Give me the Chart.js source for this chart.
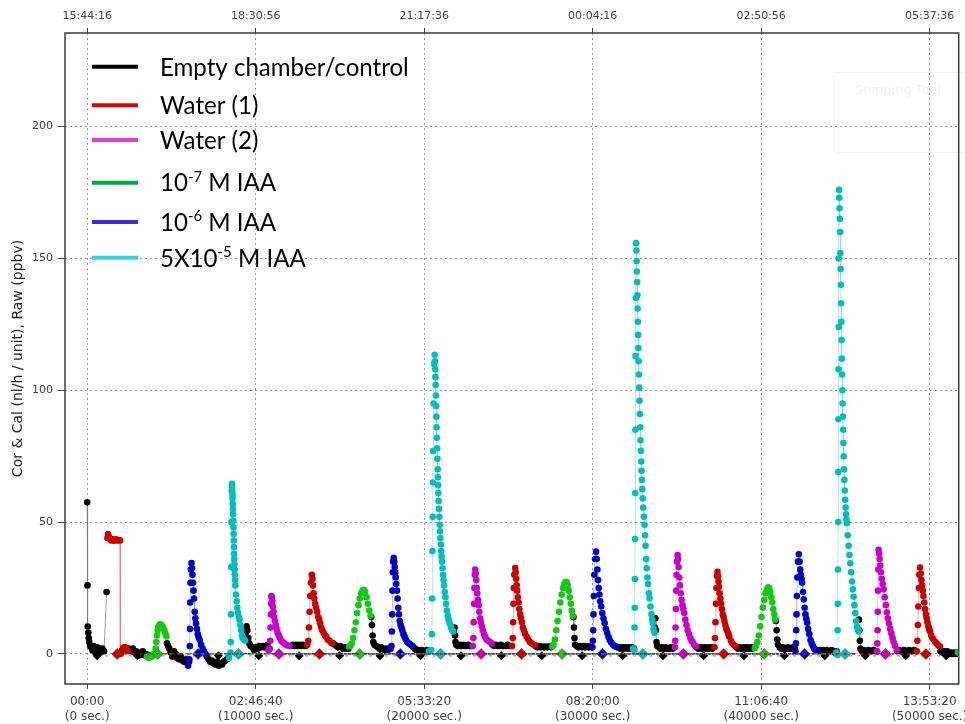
<!DOCTYPE html>
<html>
<head>
<meta charset="utf-8">
<script src="https://cdn.jsdelivr.net/npm/chart.js@4.4.0/dist/chart.umd.min.js"></script>
<style>
  html, body { margin: 0; padding: 0; background: #fff; overflow: hidden; }
  canvas { display: block; }
</style>
</head>
<body>
<canvas id="chart" width="965" height="724"></canvas>
<script>
// axis ticks (seconds from start) and their labels
const timeTicks = [0, 10000, 20000, 30000, 40000, 50000];
const bottomLabels = [['00:00', '(0 sec.)'], ['02:46:40', '(10000 sec.)'], ['05:33:20', '(20000 sec.)'],
  ['08:20:00', '(30000 sec.)'], ['11:06:40', '(40000 sec.)'], ['13:53:20', '(50000 sec.)']];
const topLabels = ['15:44:16', '18:30:56', '21:17:36', '00:04:16', '02:50:56', '05:37:36'];
const yTicks = [0, 50, 100, 150, 200];
const yTitle = 'Cor & Cal (nl/h / unit), Raw (ppbv)';

// legend entries: [text, superscript, rest]
const legendText = [['Empty chamber/control'], ['Water (1)'], ['Water (2)'],
  ['10', '-7', ' M IAA'], ['10', '-6', ' M IAA'], ['5X10', '-5', ' M IAA']];

// measured points [seconds, value], one sub-array per measurement period
const controlPts = [
  [[0,57.5],[15,26],[30,10.4],[60,8],[90,6],[120,4.5],[180,3],[240,2.5],[300,1.5],[360,3],[420,2],[480,0.5],[540,1.5],[600,2.5],[660,1],[720,2],[780,0.5],[840,1.5],[900,2],[1000,1],[1150,23.5]],
  [[2450,2],[2520,1.5],[2600,1],[2700,2],[2800,0.5],[2900,1],[3000,0],[3100,-0.5],[3200,0.5],[3300,1],[3400,-0.5],[3500,0],[3600,-1],[3700,-0.5]],
  [[4740,4],[4800,3],[4870,2],[4950,0.5],[5050,-1],[5150,1],[5250,0],[5350,-1.5],[5450,-2],[5550,-1],[5650,-2.5],[5750,-3],[5850,-2],[5950,-3.5],[6050,-3]],
  [[7100,-1],[7200,-2],[7300,-3],[7400,-2.5],[7500,-3.5],[7600,-4],[7700,-3],[7800,-4.5],[7900,-3.5],[8000,-4],[8100,-3],[8200,-2.5],[8300,-2],[8400,-1.5]],
  [[9420,8],[9460,10.5],[9500,9],[9560,6],[9620,4],[9700,3],[9800,2.5],[9900,1.5],[10000,2.5],[10100,2],[10200,3],[10300,2.5],[10400,3],[10500,2.5],[10600,3],[10700,3.5]],
  [[12100,3],[12200,3.5],[12300,3],[12400,3.5],[12500,3],[12600,3.5],[12700,3],[12800,3.5],[12900,3],[13000,3.2]],
  [[14600,4],[14700,3.5],[14800,3],[14900,2.5],[15000,3],[15100,2.5],[15200,2],[15300,2.5],[15400,2],[15500,2]],
  [[16860,14],[16900,11],[16940,7],[16980,4.5],[17050,3.5],[17150,3],[17250,2.5],[17350,2],[17450,2.5],[17550,2],[17650,1.5],[17750,2],[17850,1.5],[17950,2]],
  [[19350,2.5],[19450,2],[19550,1.5],[19650,1.5],[19750,1],[19850,1.5],[19950,1],[20050,1],[20150,1.5],[20250,1]],
  [[21760,9],[21800,10],[21830,7],[21860,4.5],[21900,3.5],[22000,3],[22100,3.5],[22200,3],[22300,3.5],[22400,3],[22500,3],[22600,3.5],[22700,3],[22800,3]],
  [[24060,3.5],[24150,3],[24250,3.5],[24350,3],[24450,3],[24550,3.5],[24650,3],[24750,3],[24850,3],[24950,3.5],[25050,3],[25150,3]],
  [[26620,3],[26720,2.5],[26820,3],[26920,2.5],[27020,2.8],[27120,2.5],[27220,2.8],[27320,2.5],[27420,2.8],[27520,2.5]],
  [[28860,14],[28890,10],[28920,6],[28960,3.5],[29050,3],[29150,2.5],[29250,3],[29350,2.5],[29450,3],[29550,2.5],[29650,3],[29750,2.5],[29850,2.8],[29950,2.5]],
  [[31450,2.5],[31550,2.5],[31650,2],[31750,2.5],[31850,2],[31950,2.5],[32050,2],[32150,2.5],[32250,2],[32350,2.5],[32450,2]],
  [[33690,10],[33720,13.5],[33750,9],[33790,4.5],[33840,3],[33940,2.5],[34040,2],[34140,2.5],[34240,2],[34340,2.5],[34440,2],[34540,2],[34640,2.5],[34740,2],[34840,2.5]],
  [[36180,2.5],[36280,2],[36380,2.5],[36480,2],[36580,2.5],[36680,2],[36780,2.5],[36880,2],[36980,2.5],[37080,2],[37180,2.5]],
  [[38550,2.5],[38650,2],[38750,2.5],[38850,2],[38950,2.5],[39050,2],[39150,2.5],[39250,2],[39350,2.5],[39450,2],[39550,2.5]],
  [[40880,12.5],[40920,9],[40960,5.5],[41000,3.5],[41100,2.5],[41200,2],[41300,2.5],[41400,2],[41500,2],[41600,2.5],[41700,2],[41800,2],[41900,2.5],[42000,2]],
  [[43280,1.5],[43380,1],[43480,1.5],[43580,1],[43680,1.5],[43780,1],[43880,1.5],[43980,1],[44080,1],[44180,1.5],[44280,1],[44380,0.5],[44480,1]],
  [[45800,13],[45830,9],[45860,5],[45900,2],[45980,1],[46080,1.5],[46180,1],[46280,1],[46380,1.5],[46480,1],[46580,1],[46680,1.5],[46780,1],[46860,1]],
  [[48080,1],[48180,1.5],[48280,1],[48380,1],[48480,1.5],[48580,1],[48680,1],[48780,1.5],[48880,1],[48980,1],[49080,1.5],[49180,1]],
  [[50650,1],[50750,0.5],[50850,1],[50950,0.5],[51050,1],[51150,0],[51250,0.5],[51350,0],[51450,0.5],[51550,0],[51650,0.5]]
];

const water1Pts = [
  [[1200,44],[1235,45.5],[1280,44.5],[1330,44],[1380,43.5],[1430,43],[1490,43.5],[1550,43],[1620,43],[1700,43.5],[1790,43],[1880,43.2],[1950,43],[1965,0],[2020,0.5],[2080,1.5],[2140,2.2],[2200,2.5],[2260,2.5],[2320,2],[2380,1.5],[2420,1]],
  [[13060,3.4],[13120,5],[13160,10],[13200,16],[13240,22],[13280,27],[13330,30],[13370,28.5],[13400,26],[13440,23],[13480,21],[13530,19],[13590,17.5],[13650,16],[13710,14],[13770,13],[13830,11.5],[13890,10],[13950,9],[14030,8],[14110,7],[14190,6.5],[14280,5.5],[14380,5],[14480,4.3],[14560,4]],
  [[25220,3],[25260,6],[25280,12],[25300,19],[25320,25],[25350,30],[25400,32.6],[25430,31],[25460,28.5],[25490,26],[25520,24],[25560,21.5],[25600,19.5],[25650,17],[25700,15],[25750,13.5],[25800,12],[25860,10],[25920,9],[25990,7.7],[26080,6.5],[26180,5.5],[26280,4.5],[26380,4],[26480,3.5],[26580,3.4]],
  [[37230,2.5],[37260,6],[37290,12],[37320,19],[37350,25],[37380,29.5],[37410,31.2],[37440,29.5],[37470,27.5],[37500,25.5],[37540,23],[37580,21],[37620,19],[37670,17],[37720,15],[37770,14],[37820,12.5],[37880,11],[37940,9.5],[38000,8.5],[38060,7.5],[38100,6.6],[38200,5],[38300,4],[38400,3.3],[38490,2.8]],
  [[49240,1],[49270,5],[49300,11],[49330,18],[49360,25],[49390,30],[49430,32.8],[49470,30.5],[49510,28],[49550,26],[49590,24],[49630,22],[49680,19.5],[49730,17],[49780,15],[49820,13.7],[49870,12],[49920,10.5],[49970,9.5],[50020,8.6],[50100,7],[50200,5.7],[50310,4.7],[50410,4],[50510,3.3],[50610,2.8]]
];

const water2Pts = [
  [[10760,1.5],[10830,2],[10860,5],[10880,10],[10900,15],[10915,19],[10930,22],[10960,21.5],[10990,20],[11020,18],[11060,16],[11100,14],[11140,12.5],[11190,11],[11240,9.5],[11300,8],[11370,7],[11440,6],[11520,5],[11600,4.5],[11700,4],[11800,3.5],[11900,3.2],[12000,3]],
  [[22880,3],[22920,6],[22940,12],[22960,19],[22980,25],[23000,30],[23030,32],[23060,30.5],[23090,28],[23120,25],[23150,23],[23190,20.5],[23230,18.5],[23270,16],[23320,13.5],[23370,12],[23420,10.5],[23480,9],[23550,7.5],[23620,6.5],[23700,5.5],[23800,5],[23900,4.5],[24000,4]],
  [[34880,2.5],[34900,5],[34920,10],[34940,17],[34960,24],[34980,30],[35010,35],[35040,37.5],[35070,36],[35100,33],[35140,29],[35180,26],[35230,23],[35280,20.5],[35330,18.5],[35380,17],[35440,15.5],[35500,13],[35570,11],[35640,9],[35720,7.5],[35800,6],[35870,5],[35930,4.6],[36030,3.5],[36130,2.8]],
  [[46880,1],[46895,4],[46910,9],[46925,16],[46940,24],[46955,32],[46970,39.5],[47000,38],[47030,36],[47070,33.5],[47110,31],[47160,28.5],[47210,26.5],[47270,24.5],[47330,21.5],[47400,18.5],[47460,15.8],[47520,13.5],[47590,11.5],[47660,9.5],[47730,7.8],[47800,6],[47860,4.5],[47950,3],[48050,1.5]]
];

const iaa7Pts = [
  [[3550,-1],[3650,-1.5],[3750,-0.5],[3850,-1],[3950,0],[4020,0],[4060,2],[4100,4.5],[4140,7],[4180,9],[4220,10.3],[4280,11],[4340,11.2],[4400,11],[4460,10.5],[4520,9.8],[4580,9],[4640,7.8],[4700,6.6]],
  [[15540,2.8],[15620,3],[15700,4],[15780,6],[15860,9],[15940,12],[16020,15.5],[16100,18.5],[16180,21],[16260,23],[16340,24],[16420,24.3],[16500,23.5],[16580,21.5],[16660,19],[16740,16.5],[16820,14.5]],
  [[27600,2.8],[27680,3.5],[27760,5.5],[27840,9],[27920,12.5],[28000,16],[28080,19.5],[28160,22.5],[28240,25],[28320,26.5],[28400,27.4],[28460,27.2],[28520,26],[28580,24],[28640,21.5],[28700,19],[28760,16.5],[28820,14.5]],
  [[39620,2.2],[39700,3],[39780,4.5],[39860,7],[39940,10.5],[40020,14],[40100,17.5],[40180,20.5],[40260,23],[40340,24.5],[40420,25.3],[40480,25],[40540,23.5],[40600,21.5],[40660,19.5],[40720,17],[40780,15],[40840,13]],
  [[51680,0.5]]
];

const iaa6Pts = [
  [[5990,-4.5],[6060,-2],[6090,3],[6100,9.5],[6110,19.5],[6125,27],[6150,32],[6190,34.5],[6220,32.5],[6250,30],[6280,27],[6310,24],[6340,21],[6380,16],[6420,13.5],[6460,11.5],[6510,9.5],[6560,7.5],[6620,6.3],[6680,5.3],[6760,3.5],[6850,2],[6940,1],[7020,0]],
  [[18000,2],[18060,3],[18080,8.5],[18100,15],[18120,24],[18140,31],[18160,35],[18190,36.5],[18220,35],[18250,33],[18280,31],[18310,29],[18340,26.5],[18380,24],[18420,21],[18460,17.5],[18500,15],[18550,12.5],[18600,11],[18650,10],[18700,9],[18770,7.5],[18840,6.5],[18910,5.5],[19000,4.5],[19100,4],[19200,3.5],[19300,3]],
  [[29990,2.5],[30010,5],[30030,9],[30050,15],[30070,22],[30100,30],[30140,36],[30200,38.8],[30240,36],[30280,32],[30320,28],[30360,25],[30400,22.5],[30450,20],[30510,18],[30570,15.5],[30640,13.5],[30710,11.7],[30780,9.5],[30860,8],[30940,6.5],[31010,5.3],[31100,4.3],[31200,3.5],[31300,3],[31400,2.8]],
  [[42040,1],[42060,4],[42080,9],[42100,15],[42120,22],[42150,29],[42190,35],[42240,37.8],[42280,35],[42320,32],[42360,30],[42400,28.5],[42430,27],[42480,23.5],[42530,20.7],[42580,17.5],[42630,15],[42680,13.3],[42730,11.8],[42790,9.5],[42860,7.5],[42930,5.3],[43000,4],[43080,3],[43150,2],[43220,1.5]]
];

const iaa5x5Pts = [
  [[8420,-1.5],[8500,0.5],[8515,4.5],[8530,15],[8545,33],[8560,50],[8575,62],[8590,64.5],[8600,63.5],[8610,62],[8620,60.5],[8630,59],[8640,57],[8650,55],[8660,53],[8670,50.5],[8680,48],[8690,45.5],[8700,43],[8710,40.5],[8720,38],[8730,36],[8740,34],[8750,32],[8760,30],[8775,28],[8790,26],[8830,22.5],[8870,20],[8910,17.5],[8950,15.5],[9000,14],[9040,13],[9090,11],[9140,9],[9190,7],[9230,6],[9300,5.5],[9370,5]],
  [[20280,1],[20420,1.5],[20460,7.5],[20475,21],[20490,39],[20505,52],[20520,65],[20535,77],[20560,95],[20590,110],[20620,113.5],[20635,111],[20650,108],[20665,105],[20680,102],[20695,98],[20710,94],[20725,90],[20740,86],[20755,82],[20770,78],[20785,74],[20800,70],[20815,67],[20830,64],[20845,61],[20860,58],[20880,55],[20900,52],[20920,49],[20940,46.5],[20960,44],[20985,41.5],[21010,39],[21035,37],[21060,35],[21090,32.5],[21120,30],[21150,28],[21180,26],[21220,23.5],[21260,21.5],[21300,19],[21350,16.5],[21400,14.5],[21450,13],[21520,11.5],[21590,10],[21660,9],[21730,8.5]],
  [[32400,2],[32470,1.5],[32485,10],[32495,17.5],[32505,28.4],[32515,43.6],[32525,61],[32535,85],[32548,113],[32562,135],[32580,155.8],[32595,153],[32610,149],[32625,145],[32640,141],[32655,136],[32670,131],[32685,126],[32700,121],[32715,116],[32730,111],[32745,106],[32760,101],[32780,96],[32800,91],[32820,86],[32840,81],[32860,77],[32880,73],[32900,69.5],[32920,66],[32945,62.5],[32970,59],[33000,55.5],[33040,52],[33080,49],[33110,45],[33140,41],[33175,36],[33210,32.5],[33250,29],[33290,26.5],[33340,23],[33375,21],[33430,18],[33490,15],[33540,13],[33570,11.6],[33620,9.5],[33670,8]],
  [[44460,0.5],[44530,-0.4],[44540,9],[44550,19],[44560,32],[44570,50],[44578,69],[44586,89],[44594,108],[44602,124],[44612,150],[44625,176],[44640,173],[44655,169],[44670,165],[44685,160],[44700,152],[44715,146],[44730,140],[44745,133],[44760,126],[44775,119],[44790,112],[44805,106],[44820,100],[44835,95],[44850,90],[44865,85],[44880,80],[44900,75],[44920,70],[44940,66],[44965,62],[44990,58.5],[45015,55.5],[45040,53],[45065,51],[45090,49.6],[45140,45],[45190,41],[45240,37.5],[45290,34.4],[45340,31],[45390,27.5],[45440,24.5],[45490,21.7],[45540,18.5],[45590,15.5],[45640,12.5],[45685,10.4],[45740,9.2],[45785,8.5]]
];

// valve switch markers on the zero line (seconds)
const controlMarks = [580, 2980, 5380, 7780, 10180, 12580, 14980, 17380, 19780, 22180, 24580, 26980,
  29380, 31780, 34180, 36580, 38980, 41380, 43780, 46180, 48580, 50980];
const water1Marks = [1780, 13780, 25780, 37780, 49780];
const water2Marks = [11380, 23380, 35380, 47380];
const iaa7Marks = [4180, 16180, 28180, 40180];
const iaa6Marks = [6580, 18580, 30580, 42580];
const iaa5x5Marks = [8980, 20980, 32980, 44980];

// styles
const series = [
  { pts: controlPts, marks: controlMarks, dot: '#000000', line: 'rgba(120,120,120,0.7)', legend: '#000000' },
  { pts: water1Pts, marks: water1Marks, dot: '#c80000', line: 'rgba(225,90,90,0.55)', legend: '#e60000' },
  { pts: water2Pts, marks: water2Marks, dot: '#c800c8', line: 'rgba(220,110,220,0.5)', legend: '#dc3cdc' },
  { pts: iaa7Pts, marks: iaa7Marks, dot: '#14c814', line: 'rgba(90,210,90,0.5)', legend: '#00a84a' },
  { pts: iaa6Pts, marks: iaa6Marks, dot: '#0000c8', line: 'rgba(110,110,235,0.5)', legend: '#3c28e6' },
  { pts: iaa5x5Pts, marks: iaa5x5Marks, dot: '#00bebe', line: 'rgba(120,220,220,0.6)', legend: '#32d2e6' }
];

const datasets = [];
series.forEach((s, si) => {
  const isControl = si === 0;
  s.pts.forEach(seg => {
    datasets.push({
      data: seg.map(p => ({ x: p[0], y: p[1] })),
      showLine: true,
      borderColor: s.line,
      borderWidth: 1,
      pointRadius: 3.3,
      pointBackgroundColor: s.dot,
      pointBorderWidth: 0,
      order: isControl ? 3 : 2
    });
  });
  datasets.push({
    data: s.marks.map(t => ({ x: t, y: isControl ? -0.7 : 0 })),
    showLine: true,
    borderColor: isControl ? 'rgba(90,90,90,0.6)' : s.dot,
    borderWidth: 1.2,
    borderDash: [3, 5],
    borderDashOffset: si * 1.5,
    pointStyle: 'rectRot',
    pointRadius: isControl ? 4.5 : 5.5,
    pointBackgroundColor: s.dot,
    pointBorderColor: isControl ? '#000' : 'rgba(60,60,60,0.6)',
    pointBorderWidth: isControl ? 0 : 0.8,
    order: isControl ? 1 : 0
  });
});

const X_MIN = -1318, X_MAX = 51725;
const Y_MIN = -11.4, Y_MAX = 235.5;

const decorations = {
  id: 'decorations',
  afterDraw(chart) {
    const { ctx, chartArea: a } = chart;
    ctx.save();

    // faint screenshot watermark box
    ctx.strokeStyle = 'rgba(0,0,0,0.04)';
    ctx.lineWidth = 1;
    ctx.strokeRect(834.5, 72.5, 140, 80);
    ctx.fillStyle = 'rgba(0,0,0,0.06)';
    ctx.font = '13px "DejaVu Sans"';
    ctx.textBaseline = 'middle';
    ctx.fillText('Snipping Tool', 855, 91);

    // plot frame
    ctx.strokeStyle = '#3c3c3c';
    ctx.lineWidth = 1.5;
    ctx.strokeRect(a.left, a.top, a.right - a.left, a.bottom - a.top);

    // legend
    const lineY = [66.7, 105.3, 140, 182.7, 222, 257.7];
    const baseY = [75.5, 113.5, 148.5, 191, 230.5, 266.5];
    ctx.font = '100px Lato';
    const size = 100 * 249 / ctx.measureText(legendText[0][0]).width;
    legendText.forEach((parts, i) => {
      ctx.strokeStyle = series[i].legend;
      ctx.lineWidth = 4;
      ctx.beginPath();
      ctx.moveTo(92, lineY[i]);
      ctx.lineTo(138, lineY[i]);
      ctx.stroke();
      let x = 160;
      ctx.fillStyle = '#000';
      ctx.textAlign = 'left';
      ctx.textBaseline = 'alphabetic';
      parts.forEach((p, j) => {
        const sup = j === 1;
        ctx.font = (sup ? size * 0.62 : size) + 'px Lato';
        ctx.fillText(p, x, sup ? baseY[i] - size * 0.38 : baseY[i]);
        x += ctx.measureText(p).width;
      });
    });

    // y axis title
    ctx.translate(18, (a.top + a.bottom) / 2);
    ctx.rotate(-Math.PI / 2);
    ctx.font = '14px "DejaVu Sans"';
    ctx.fillStyle = '#222';
    ctx.textAlign = 'center';
    ctx.textBaseline = 'middle';
    ctx.fillText(yTitle, 0, 0);
    ctx.restore();
  }
};

const gridStyle = { color: 'rgba(120,120,120,0.75)', lineWidth: 1, tickColor: '#444' };

new Chart(document.getElementById('chart'), {
  type: 'scatter',
  data: { datasets },
  options: {
    responsive: false,
    animation: false,
    layout: { padding: { left: 0, right: 2.5, top: 0, bottom: 0 } },
    plugins: { legend: { display: false }, tooltip: { enabled: false } },
    scales: {
      x: {
        type: 'linear', position: 'bottom', min: X_MIN, max: X_MAX,
        afterBuildTicks: s => { s.ticks = timeTicks.map(v => ({ value: v })); },
        afterFit: s => { s.height = 40; s.paddingLeft = 0; s.paddingRight = 0; },
        ticks: {
          callback: (v, i) => bottomLabels[i],
          font: { family: 'DejaVu Sans', size: 12, lineHeight: 1.25 },
          color: '#444', padding: 5, maxRotation: 0, autoSkip: false
        },
        grid: Object.assign({ tickLength: 5 }, gridStyle),
        border: { display: false, dash: [2, 3] }
      },
      x2: {
        type: 'linear', position: 'top', min: X_MIN, max: X_MAX,
        afterBuildTicks: s => { s.ticks = timeTicks.map(v => ({ value: v })); },
        afterFit: s => { s.height = 33; s.paddingLeft = 0; s.paddingRight = 0; },
        ticks: {
          callback: (v, i) => topLabels[i],
          font: { family: 'DejaVu Sans', size: 11 },
          color: '#444', padding: 5, maxRotation: 0, autoSkip: false
        },
        grid: { drawOnChartArea: false, tickLength: 5, tickColor: '#444' },
        border: { display: false }
      },
      y: {
        min: Y_MIN, max: Y_MAX,
        afterBuildTicks: s => { s.ticks = yTicks.map(v => ({ value: v })); },
        afterFit: s => { s.width = 65; s.paddingTop = 0; s.paddingBottom = 0; },
        ticks: { font: { family: 'DejaVu Sans', size: 11 }, color: '#444', padding: 5 },
        grid: Object.assign({ tickLength: 7 }, gridStyle),
        border: { display: false, dash: [2, 3] }
      }
    }
  },
  plugins: [decorations]
});
</script>
</body>
</html>
